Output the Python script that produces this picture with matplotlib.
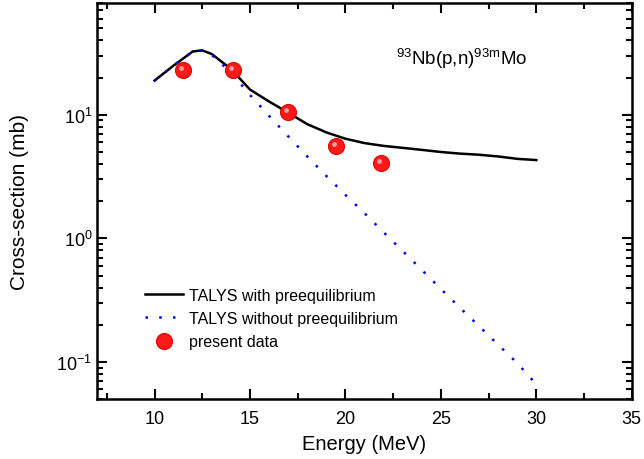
import matplotlib.pyplot as plt
from matplotlib.ticker import MultipleLocator, LogLocator, NullFormatter
from matplotlib.transforms import offset_copy
import numpy as np

plt.rcParams['font.family'] = ['Liberation Sans', 'DejaVu Sans']
plt.rcParams['mathtext.fontset'] = 'custom'
plt.rcParams['mathtext.rm'] = 'Liberation Sans'
plt.rcParams['mathtext.it'] = 'Liberation Sans'
plt.rcParams['axes.unicode_minus'] = False

# TALYS with preequilibrium
e_pre = [10, 11, 12, 12.5, 13, 14, 15, 16, 17, 18, 19, 20, 21, 22, 23, 24, 25, 26, 27, 28, 29, 30]
xs_pre = [18.9, 25.0, 32.5, 33.2, 31.0, 23.5, 16.0, 12.8, 10.4, 8.4, 7.2, 6.4, 5.9, 5.6, 5.4, 5.2,
          5.0, 4.85, 4.75, 4.6, 4.4, 4.3]

# TALYS without preequilibrium
e_nopre = [10, 11, 12, 12.5, 13, 14, 15, 16, 17, 18, 19, 20, 21, 22, 23, 24, 25, 26, 27, 28, 29, 30]
xs_nopre = [18.9, 25.0, 32.5, 33.0, 30.5, 22.0, 14.5, 9.8, 6.7, 4.6, 3.2, 2.25, 1.6, 1.12, 0.79,
            0.556, 0.39, 0.275, 0.195, 0.138, 0.098, 0.066]

# present data
e_exp = [11.5, 14.1, 17.0, 19.5, 21.85]
xs_exp = [23.2, 23.0, 10.6, 5.6, 4.1]

fig = plt.figure(figsize=(6.44, 4.6), dpi=100)
ax = fig.add_axes([0.151, 0.130, 0.830, 0.861])

ax.plot(e_pre, xs_pre, color='black', lw=1.8, label='TALYS with preequilibrium')
ax.plot(e_nopre, xs_nopre, color='blue', lw=1.8, linestyle=(0, (1, 4.5)),
        label='TALYS without preequilibrium')
ax.plot(e_exp, xs_exp, 'o', color='#ff1a1a', ms=11.5, mec='#e80000', mew=0.8, zorder=5,
        label='present data')
# highlight on spheres
hl = offset_copy(ax.transData, fig=fig, x=-2, y=2, units='dots')
ax.plot(e_exp, xs_exp, 'o', ms=3.5, color='#ff9a9a', mec='none', zorder=6, transform=hl)

ax.set_yscale('log')
ax.set_xlim(7, 35)
ax.set_ylim(0.05, 80)

ax.xaxis.set_major_locator(MultipleLocator(5))
ax.xaxis.set_minor_locator(MultipleLocator(2.5))
ax.yaxis.set_major_locator(LogLocator(base=10))
ax.yaxis.set_minor_locator(LogLocator(base=10, subs=np.arange(2, 10)))
ax.yaxis.set_minor_formatter(NullFormatter())

ax.tick_params(which='both', direction='in', top=True, right=True, labelsize=13, width=1.5)
ax.tick_params(which='major', length=7)
ax.tick_params(which='minor', length=4)
ax.tick_params(axis='x', pad=8)
for sp in ax.spines.values():
    sp.set_linewidth(1.8)

ax.set_xlabel('Energy (MeV)', fontsize=14.5, labelpad=5)
ax.set_ylabel('Cross-section (mb)', fontsize=15, labelpad=20)

ax.text(0.558, 0.862, r'$^{93}$Nb(p,n)$^{\mathrm{93m}}$Mo', transform=ax.transAxes, fontsize=13.5,
        ha='left', va='center')

ax.legend(loc='lower left', bbox_to_anchor=(0.062, 0.09), frameon=False, fontsize=11.5,
          handlelength=2.4, handletextpad=0.35, labelspacing=0.52)

fig.savefig('out.png', dpi=100)
